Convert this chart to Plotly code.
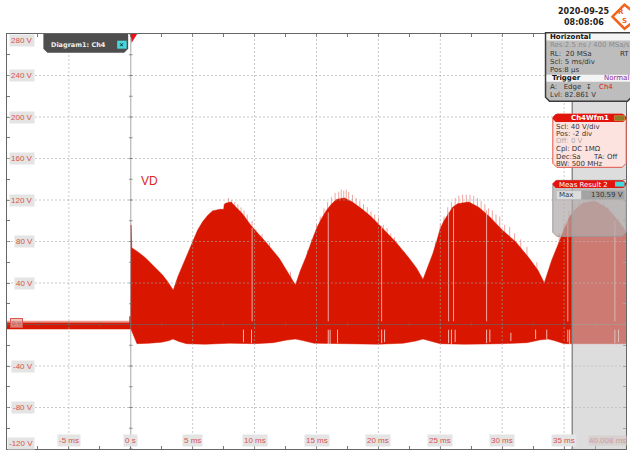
import plotly.graph_objects as go

W, H = 630, 451
L, R, T, B = 7.3, 626.5, 34.3, 449.5

# upper envelope of the waveform (ms, V)
upper_t = [0.0, 0.02, 0.08, 0.35, 0.69, 1.2, 1.76, 2.2, 2.57, 3.0, 3.43, 3.8, 4.19, 4.6, 5.0, 5.4, 5.8, 6.2, 6.6, 7.2, 7.5, 7.55, 7.7, 8.1, 8.5, 9.0, 9.8, 10.9, 12.0, 12.9, 13.3,
           13.7, 14.15, 14.6, 15.0, 15.4, 15.8, 16.2, 16.6, 17.25, 17.9, 18.7, 19.4, 20.1, 21.4, 22.5, 23.1, 23.6,
           24.0, 24.4, 24.7, 25.0, 25.3, 25.7, 26.0, 26.4, 27.3, 28.1, 29.0, 30.0, 31.1, 32.2, 32.9, 33.4,
           34.0, 34.6, 35.0, 35.5, 36.0, 36.5, 37.5, 38.5, 39.5, 40.0]
upper_v = [8, 96, 74, 72, 69, 64, 57, 52, 47.6, 41, 33, 46, 57, 70, 81, 91, 99, 105, 109.5, 111, 111, 116, 117, 118, 113, 107, 94, 79.6, 63.6, 46, 38,
           52, 65, 80, 92.5, 102, 110, 116, 120.5, 122, 118, 111, 104, 95.7, 79.6, 63.6, 54, 43.4,
           56, 68.4, 80, 92.5, 100, 108, 113, 116.5, 118, 113, 103.7, 91, 79.6, 63.6, 52, 40,
           62, 79.6, 92, 105, 112, 117, 119, 112, 98, 89]
# lower envelope
lower_t = [0.0, 0.5, 1.5, 2.5, 3.1, 3.4, 3.9, 4.5, 6.0, 8.0, 10.0, 11.5, 12.6, 13.3, 13.9, 14.8, 17.0, 20.0, 22.0, 23.0, 23.6, 24.3, 25.0,
           27.0, 30.0, 32.0, 33.0, 33.7, 34.2, 35.0, 37.0, 40.0]
lower_v = [-4, -18.5, -18, -17, -15.5, -14, -16.5, -18.5, -19, -18, -18.5, -17.5, -15, -14, -15.5, -18, -18.5, -19, -18, -16, -14, -16, -18.5,
           -19, -18.5, -17.5, -15, -14, -15.5, -18.5, -18.5, -18.5]
# pre-trigger band
pre_t = [-10, -0.12, -0.12, 0]
pre_top = [2, 2, 8, 8]
pre_bottom = [-4.5, -4.5, -4.5, -4.5]
pre_halo = [3.5, 3.5, 8, 8]

# small light spikes rising above the envelope
spike_t = [7.9, 8.15, 8.4, 8.65, 8.9, 9.15, 9.4, 9.8, 10.1, 10.6, 11.2, 12.9,
           14.3, 14.6, 15.0, 15.3, 15.6, 15.9, 16.2, 16.5, 16.8, 17.0, 17.2, 17.4, 17.6, 17.9, 18.2, 18.5, 18.8, 19.1, 19.4, 19.7, 20.0, 20.4, 20.7, 21.0, 21.3, 22.1,
           24.6, 25.0, 25.3, 25.6, 25.9, 26.2, 26.5, 26.8, 27.1, 27.4, 27.7, 28.0, 28.3, 28.6, 28.9, 29.2, 29.5, 29.8, 30.2, 30.6, 31.0, 31.5, 32.0, 32.8,
           34.6, 35.0, 35.4, 35.8, 36.2, 36.6, 37.0, 37.4, 37.8, 38.2, 38.6, 39.0, 39.4, 39.8]
spike_top = [122, 120, 118, 116, 113, 110, 106, 100, 92, 87, 79, 51,
             72, 82, 97, 104, 112, 118, 123, 127, 128, 130, 129, 130, 128, 125, 122, 119, 116, 113, 109, 106, 103, 96, 93, 88, 84, 70,
             79, 97, 104, 113, 118, 122, 124, 125, 125, 125, 124, 122, 119, 116, 112, 110, 106, 104, 96, 94, 88, 82, 75, 60,
             88, 97, 110, 117, 122, 125, 126, 124, 122, 118, 113, 108, 102, 95]
# full-height light gaps in the upper part: time, top
gap_up_t = [9.8, 15.95, 20.26, 25.67, 26.07, 28.74, 35.3, 39.1]
gap_up_top = [93, 108, 95, 108, 112, 110, 100, 100]
# light gaps under the zero line: time, bottom
gap_low_t = [9.1, 9.75, 15.95, 16.1, 16.7, 20.26, 20.5, 25.67, 25.9, 26.2, 28.74, 29.0, 30.7, 32.7, 33.6, 35.3, 35.45, 39.1, 39.4]
gap_low_bottom = [-17, -18, -19, -19, -18, -18, -17, -18, -19, -17, -18, -17, -16, -14, -14, -17, -19, -18, -17]
gap_low_top = [-5, -5, -5, -5, -5, -5, -5, -5, -5, -5, -5, -5, -8, -5, -5, -5, -5, -5, -5]

x_ticks = [-5, 0, 5, 10, 15, 20, 25, 30, 35]
x_labels = ["-5 ms", "0 s", "5 ms", "10 ms", "15 ms", "20 ms", "25 ms", "30 ms", "35 ms"]
y_ticks = [280, 240, 200, 160, 120, 80, 40, -40, -80, -120]
y_labels = ["280 V", "240 V", "200 V", "160 V", "120 V", "80 V", "40 V", "-40 V", "-80 V", "-120 V"]
cursor_ms = 35.66

RED = "#d91600"
PINK = "#eea79f"
LABEL = "#d8534a"


def px(x):
    return (x - L) / (R - L)


def py(y):
    return (B - y) / (B - T)


def vlines(ts, tops, bottoms):
    xs, ys = [], []
    for t, a, b in zip(ts, tops, bottoms):
        xs += [t, t, None]
        ys += [a, b, None]
    return xs, ys


fig = go.Figure()

xs, ys = vlines(spike_t, spike_top, [0] * len(spike_t))
fig.add_trace(go.Scatter(x=xs, y=ys, mode="lines", line=dict(color=PINK, width=1), hoverinfo="skip"))

fig.add_trace(go.Scatter(x=pre_t + pre_t[::-1], y=pre_halo + pre_top[::-1], mode="lines", fill="toself",
                         fillcolor="#eb9a90", line=dict(width=0), hoverinfo="skip"))
fig.add_trace(go.Scatter(x=pre_t + pre_t[::-1], y=pre_top + pre_bottom[::-1], mode="lines", fill="toself",
                         fillcolor=RED, line=dict(width=0), hoverinfo="skip"))
fig.add_trace(go.Scatter(x=upper_t + lower_t[::-1], y=upper_v + lower_v[::-1], mode="lines", fill="toself",
                         fillcolor=RED, line=dict(color=RED, width=0.5), hoverinfo="skip"))

xs, ys = vlines(gap_up_t, gap_up_top, [3] * len(gap_up_t))
fig.add_trace(go.Scatter(x=xs, y=ys, mode="lines", line=dict(color=PINK, width=1), hoverinfo="skip"))
xs, ys = vlines(gap_low_t, gap_low_top, gap_low_bottom)
fig.add_trace(go.Scatter(x=xs, y=ys, mode="lines", line=dict(color="#f2bcb5", width=1), hoverinfo="skip"))

shapes = []
GRID = "rgba(165,165,165,0.6)"
for v in range(-5, 40, 5):
    if v != 0:
        shapes.append(dict(type="line", xref="x", yref="paper", x0=v, x1=v, y0=0, y1=1,
                           line=dict(color=GRID, width=1, dash="2px,2px"), layer="above"))
for v in range(-80, 280, 40):
    if v != 0:
        shapes.append(dict(type="line", xref="paper", yref="y", x0=0, x1=1, y0=v, y1=v,
                           line=dict(color=GRID, width=1, dash="2px,2px"), layer="above"))
# central axes
shapes.append(dict(type="line", xref="x", yref="paper", x0=0, x1=0, y0=0, y1=1,
                   line=dict(color="rgba(120,120,120,0.65)", width=1), layer="above"))
shapes.append(dict(type="line", xref="paper", yref="y", x0=0, x1=1, y0=0, y1=0,
                   line=dict(color="rgba(110,100,90,0.65)", width=1), layer="above"))
for m in [i * 2.5 for i in range(-3, 16)]:
    shapes.append(dict(type="line", xref="x", yref="y", x0=m, x1=m, y0=-2, y1=2,
                       line=dict(color="rgba(100,100,100,0.65)", width=1), layer="above"))
for m in range(-120, 281, 20):
    shapes.append(dict(type="line", xref="x", yref="y", x0=-0.15, x1=0.15, y0=m, y1=m,
                       line=dict(color="rgba(100,100,100,0.65)", width=1), layer="above"))

# shaded gate right of the cursor
shapes.append(dict(type="rect", xref="x", yref="paper", x0=cursor_ms, x1=40, y0=0, y1=1,
                   fillcolor="rgba(196,196,196,0.58)", line=dict(width=0), layer="above"))
shapes.append(dict(type="line", xref="x", yref="paper", x0=cursor_ms, x1=cursor_ms, y0=0, y1=1,
                   line=dict(color="#8c8c8c", width=1.5), layer="above"))


def rect(x0, y0, x1, y1, fill, line=None, lw=0):
    shapes.append(dict(type="rect", xref="paper", yref="paper", x0=px(x0), x1=px(x1), y0=py(y1), y1=py(y0),
                       fillcolor=fill, line=dict(color=line or fill, width=lw), layer="above"))


def path(points, fill, line=None, lw=0):
    d = "M " + " L ".join(f"{px(a):.5f},{py(b):.5f}" for a, b in points) + " Z"
    shapes.append(dict(type="path", xref="paper", yref="paper", path=d, fillcolor=fill,
                       line=dict(color=line or fill, width=lw), layer="above"))


def rrect(x0, y0, x1, y1, fill, line=None, lw=0, r=3, top=True):
    tr = r if top else 0.01
    pts = [(x0 + tr, y0), (x1 - tr, y0), (x1, y0 + tr), (x1, y1 - r), (x1 - r, y1), (x0 + r, y1), (x0, y1 - r), (x0, y0 + tr)]
    path(pts, fill, line, lw)


# diagram tab and trigger marker
path([(131, 34.3), (137.5, 34.3), (132, 43)], "#e8141a")
rrect(43.7, 34.3, 128.5, 53, "#4e4e4e", r=4, top=False)
rect(117.5, 41, 127, 49, "#45d8dc")

# Horizontal panel
rrect(546, 33, 632, 101.5, "#bdbdbd", "#3c3c3c", 1.5, r=4, top=False)
rect(547, 34, 632, 40.8, "#f4f4f4")
rect(547, 75, 632, 82, "#f4f4f4")

# channel panel
rrect(553.3, 114.3, 626.7, 167.7, "#fde3df", "#e1554a", 1, r=4)
rrect(553.3, 114.3, 626.7, 122.3, "#e2140c", r=3)
rect(615, 116, 625, 121, "#8a7a2a", "#d0b050", 0.5)

# measure panel
rrect(553.3, 180.7, 626.7, 236.7, "rgba(178,170,170,0.72)", "#9a9a9a", 1, r=4)
rrect(553.3, 180.7, 626.7, 188.3, "#e2140c", r=3)
rect(615.5, 182, 625, 187, "#45d8dc")
rect(556.7, 191, 582, 200, "#dcdcdc", "#aaaaaa", 0.5)
rect(582, 191, 625, 200, "#a3a3a3")

# logo
path([(613, 17), (625, 5), (640, 17), (625, 29)], "rgba(255,255,255,0)", "#f2641e", 2.5)

annos = []


def note(x, y, text, size=7, color="#333333", anchor="left", family="DejaVu Sans", bg=None, bold=False):
    annos.append(dict(xref="paper", yref="paper", x=px(x), y=py(y), text=f"<b>{text}</b>" if bold else text,
                      showarrow=False, xanchor=anchor, yanchor="middle",
                      font=dict(size=size, color=color, family=family),
                      bgcolor=bg, borderpad=0))


# axis labels read through the library's scales
for v, s in zip(x_ticks, x_labels):
    annos.append(dict(xref="x", yref="paper", x=v, y=py(440.5), text=s, showarrow=False, xanchor="center", yanchor="middle",
                      font=dict(size=8, color=LABEL, family="Liberation Sans"), bgcolor="#e4e4e4", borderpad=1))
for v, s in zip(y_ticks, y_labels):
    yy = dict(y=v, yref="y")
    if v == 280:
        yy = dict(y=py(40.5), yref="paper")
    if v == -120:
        yy = dict(y=py(444), yref="paper")
    annos.append(dict(xref="paper", x=px(35), text=s, showarrow=False, xanchor="right", yanchor="middle",
                      font=dict(size=8, color=LABEL, family="Liberation Sans"), bgcolor="#e4e4e4", borderpad=1, **yy))
note(608, 440.5, "40.008 ms", size=8, color="#cf9c98", anchor="center", family="Liberation Sans", bg="#d6d0d0")
annos.append(dict(xref="paper", yref="y", x=px(17), y=1, text="0 V", showarrow=False, xanchor="center", yanchor="middle",
                  font=dict(size=6, color="#a06a64", family="Liberation Sans"), bgcolor="rgba(232,170,160,0.7)",
                  bordercolor="#d85a50", borderwidth=1, borderpad=1))

note(140, 181, "VD", size=12, color="#d9261c", family="Liberation Sans")
note(584, 12, "2020-09-25", size=8, color="#222222", anchor="center", bold=True)
note(584, 22.5, "08:08:06", size=8, color="#222222", anchor="center", bold=True)
note(50, 45.5, "Diagram1: Ch4", size=6.5, color="#f0f0f0", bold=True)
note(122.2, 45, "✕", size=6, color="#111111", anchor="center")
note(621, 12.5, "R", size=7, color="#f2641e", anchor="center", bold=True)
note(625, 21, "S", size=7, color="#f2641e", anchor="center", bold=True)

note(549, 37.5, "Horizontal", size=7, color="#111111", bold=True)
note(549, 45.5, "Res:2.5 ns / 400 MSa/s", size=7, color="#8a8a8a")
note(549, 54, "RL:  20 MSa", size=7)
note(619, 54, "RT", size=7)
note(549, 62, "Scl: 5 ms/div", size=7)
note(549, 70, "Pos:8 µs", size=7)
note(551, 78.5, "Trigger", size=7, color="#111111", bold=True)
note(603, 78.5, "Normal", size=7, color="#8a2a9a")
note(549, 87, "A:   Edge  ↧", size=7)
note(598, 87, "Ch4", size=7, color="#e0201a")
note(549, 95, "Lvl: 82.861 V", size=7)

note(590, 118.5, "Ch4Wfm1", size=7, color="#ffffff", anchor="center", bold=True)
note(555, 127, "Scl: 40 V/div", size=7)
note(555, 134.5, "Pos: -2 div", size=7)
note(555, 141.5, "Off: 0 V", size=7, color="#aaaaaa")
note(555, 149.5, "Cpl: DC 1MΩ", size=7)
note(555, 157, "Dec:Sa", size=7)
note(592, 157, "TA: Off", size=7)
note(555, 164, "BW: 500 MHz", size=7)

note(584, 185, "Meas Result 2", size=7, color="#ffffff", anchor="center")
note(558, 195.5, "Max", size=7)
note(624, 195.5, "130.59 V", size=7, anchor="right")

fig.update_layout(
    width=W, height=H, showlegend=False, paper_bgcolor="white", plot_bgcolor="white",
    margin=dict(l=L, r=W - R, t=T, b=H - B, pad=0),
    shapes=shapes, annotations=annos,
    xaxis=dict(range=[-10, 40], showgrid=False, zeroline=False, tickmode="array",
               tickvals=[i * 2.5 for i in range(-4, 17)], ticktext=[""] * 21, ticks="inside", ticklen=3,
               tickcolor="#777777", mirror="ticks", showline=True, linecolor="#666666", linewidth=1),
    yaxis=dict(range=[-120, 280], showgrid=False, zeroline=False, tickmode="array",
               tickvals=list(range(-120, 281, 20)), ticktext=[""] * 21, ticks="inside", ticklen=3,
               tickcolor="#777777", mirror="ticks", showline=True, linecolor="#666666", linewidth=1),
)

fig.write_html("out.html", config=dict(displayModeBar=False),
               post_script="document.body.style.margin='0';document.body.style.overflow='hidden';")
